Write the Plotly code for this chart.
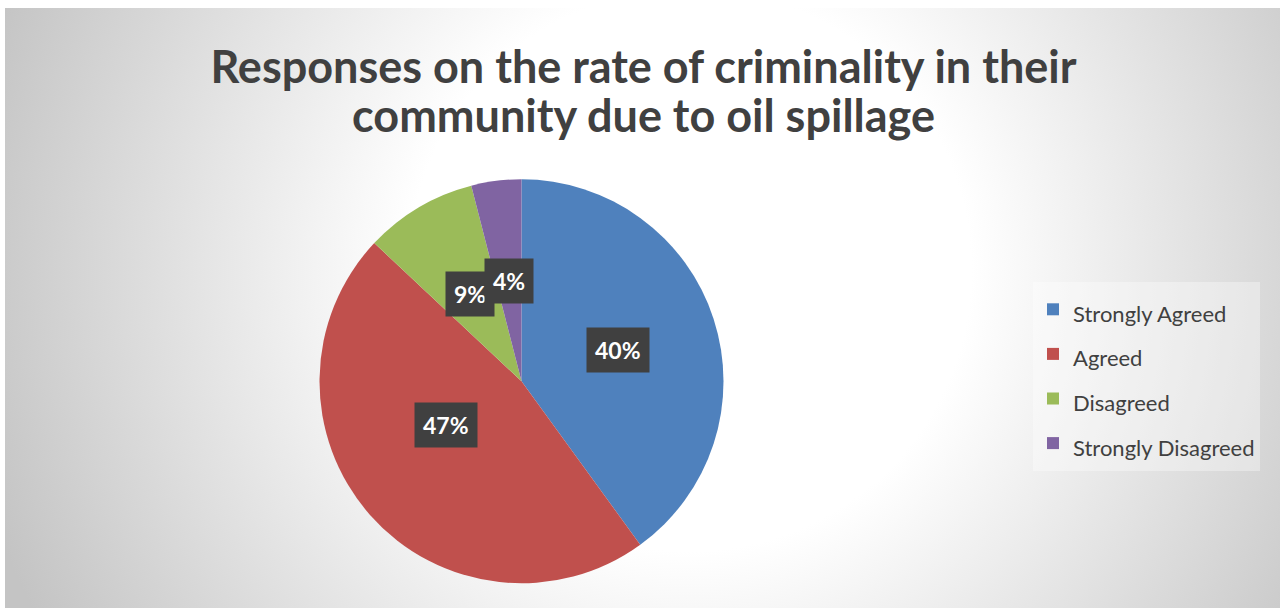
import base64
import math
import plotly.graph_objects as go

# Survey responses (percent of respondents)
categories = ["Strongly Agreed", "Agreed", "Disagreed", "Strongly Disagreed"]
values = [40, 47, 9, 4]
colors = ["#4F81BD", "#C0504D", "#9BBB59", "#8064A2"]

title_lines = ["Responses on the rate of criminality in their", "community due to oil spillage"]

W, H = 1287, 609

# pie placement in pixels
cx, cy, rad = 521.5, 381.3, 202.0
label_frac = 0.5

# chart-area background: radial grey gradient inside a white frame
bx0, by0, bx1, by1 = 5, 8, 1280, 608
bw, bh = bx1 - bx0, by1 - by0
svg = (
    f'<svg xmlns="http://www.w3.org/2000/svg" width="{bw}" height="{bh}" '
    f'viewBox="0 0 {bw} {bh}" preserveAspectRatio="none">'
    '<defs><radialGradient id="g" gradientUnits="userSpaceOnUse" '
    f'cx="{690 - bx0}" cy="{270 - by0}" r="740">'
    '<stop offset="0" stop-color="#ffffff"/>'
    '<stop offset="0.38" stop-color="#ffffff"/>'
    '<stop offset="1" stop-color="#c4c4c4"/>'
    '</radialGradient></defs>'
    f'<rect width="{bw}" height="{bh}" fill="url(#g)"/></svg>'
)
bg_uri = "data:image/svg+xml;base64," + base64.b64encode(svg.encode()).decode()

legend_names = [f'<span style="font-size:22px">{c}</span>' for c in categories]

fig = go.Figure(
    go.Pie(
        labels=legend_names,
        values=values,
        sort=False,
        direction="clockwise",
        rotation=0,
        textinfo="none",
        hoverinfo="label+percent",
        marker=dict(colors=colors, line=dict(width=0)),
        domain=dict(
            x=[(cx - rad) / W, (cx + rad) / W],
            y=[1 - (cy + rad) / H, 1 - (cy - rad) / H],
        ),
    )
)

# value labels in dark boxes at the middle of each slice
total = sum(values)
cum = 0.0
annotations = []
for v in values:
    mid = (cum + v / 2) / total
    cum += v
    ang = 2 * math.pi * mid
    px = cx + label_frac * rad * math.sin(ang)
    py = cy - label_frac * rad * math.cos(ang)
    annotations.append(dict(
        x=px / W, y=1 - py / H, xref="paper", yref="paper",
        showarrow=False, text=f"{round(100 * v / total)}%", borderpad=8,
        font=dict(family="Lato", size=23, weight="bold", color="#FFFFFF"),
        bgcolor="#404040",
    ))

fig.update_layout(
    width=W,
    height=H,
    autosize=False,
    margin=dict(l=0, r=0, t=0, b=0),
    paper_bgcolor="#FFFFFF",
    plot_bgcolor="rgba(0,0,0,0)",
    title=dict(
        text="<br>".join(f'<span style="font-size:45px">{t}</span>' for t in title_lines),
        x=0.5, xanchor="center",
        y=1 - 83 / H, yanchor="top", yref="container",
        font=dict(family="Lato", size=38, color="#404040", weight="bold"),
    ),
    legend=dict(
        x=1033 / W, y=1 - 282 / H, xanchor="left", yanchor="top",
        bgcolor="rgba(255,255,255,0.35)",
        font=dict(family="Lato", size=32, color="#404040"),
        itemclick=False,
    ),
    annotations=annotations,
    images=[dict(
        source=bg_uri, xref="paper", yref="paper",
        x=bx0 / W, y=1 - by0 / H, sizex=bw / W, sizey=bh / H,
        xanchor="left", yanchor="top", sizing="stretch", layer="below",
    )],
)

fig.write_html("out.html")
